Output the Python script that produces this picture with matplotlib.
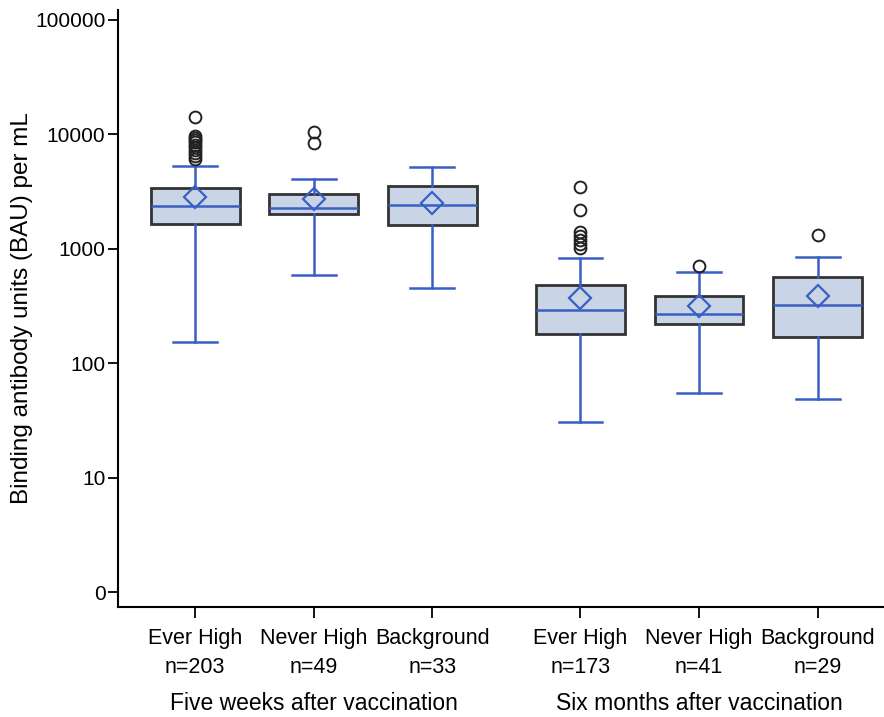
import matplotlib.pyplot as plt
import matplotlib.transforms as mtransforms

plt.rcParams['font.family'] = ['Liberation Sans', 'DejaVu Sans']

# Summary statistics per group (BAU/mL)
groups = ["Ever High", "Never High", "Background", "Ever High", "Never High", "Background"]
counts = [203, 49, 33, 173, 41, 29]
whislo = [152, 587, 457, 30.6, 54.6, 49]
q1 = [1637, 2003, 1625, 181, 220, 171]
med = [2380, 2287, 2431, 292, 269, 323]
q3 = [3380, 3013, 3563, 486, 389, 567]
whishi = [5290, 4053, 5190, 836, 631, 853]
means = [2820, 2725, 2500, 374, 316, 387]
fliers = [
    [6100, 6500, 6900, 7300, 7700, 8100, 8500, 8900, 9300, 9600, 14100],
    [8360, 10430],
    [],
    [1010, 1100, 1200, 1300, 1410, 2180, 3450],
    [707],
    [1320],
]
periods = ["Five weeks after vaccination", "Six months after vaccination"]

positions = [1, 2, 3, 4.25, 5.25, 6.25]
blue = "#3a5fc4"

stats = []
for i in range(len(groups)):
    stats.append(dict(whislo=whislo[i], q1=q1[i], med=med[i], q3=q3[i],
                      whishi=whishi[i], mean=means[i], fliers=fliers[i]))

fig = plt.figure(figsize=(8.84, 7.17), dpi=100)
ax = fig.add_axes([118 / 884, 1 - 607 / 717, 1 - 118 / 884, 597 / 717])

ax.bxp(stats, positions=positions, widths=0.75, capwidths=0.37,
       showmeans=True, patch_artist=True,
       boxprops=dict(facecolor="#c9d5e6", edgecolor="#333333", linewidth=2.0),
       whiskerprops=dict(color=blue, linewidth=1.8),
       capprops=dict(color=blue, linewidth=1.8),
       medianprops=dict(color=blue, linewidth=1.8),
       meanprops=dict(marker="D", markerfacecolor="none", markeredgecolor=blue,
                      markersize=11.5, markeredgewidth=1.6),
       flierprops=dict(marker="o", markerfacecolor="none", markeredgecolor="#222222",
                       markersize=8.5, markeredgewidth=1.4))

ax.set_yscale("log")
ax.set_ylim(0.74, 122000)
ax.set_xlim(0.35, 6.81)
ax.set_yticks([1, 10, 100, 1000, 10000, 100000])
ax.set_yticklabels(["0", "10", "100", "1000", "10000", "100000"])
ax.minorticks_off()
ax.set_xticks(positions)
ax.set_xticklabels([f"{g}\nn={n}" for g, n in zip(groups, counts)], linespacing=1.5)

ax.spines["top"].set_visible(False)
ax.spines["right"].set_visible(False)
ax.spines["left"].set_linewidth(1.5)
ax.spines["bottom"].set_linewidth(1.5)
ax.tick_params(axis="y", length=7, width=1.3, labelsize=15, pad=2)
ax.tick_params(axis="x", length=8, width=1.3, labelsize=15.5, pad=7)

ax.set_ylabel("Binding antibody units (BAU) per mL", fontsize=17.5)
ax.yaxis.set_label_coords(-0.111, 0.5)

# Period captions centred under the middle box of each group
trans = mtransforms.blended_transform_factory(ax.transData, fig.transFigure)
ax.text(2, 1 - 710 / 717, periods[0], transform=trans, ha="center", va="baseline", fontsize=16.5)
ax.text(5.25, 1 - 710 / 717, periods[1], transform=trans, ha="center", va="baseline", fontsize=16.5)

fig.savefig("out.png", dpi=100)
